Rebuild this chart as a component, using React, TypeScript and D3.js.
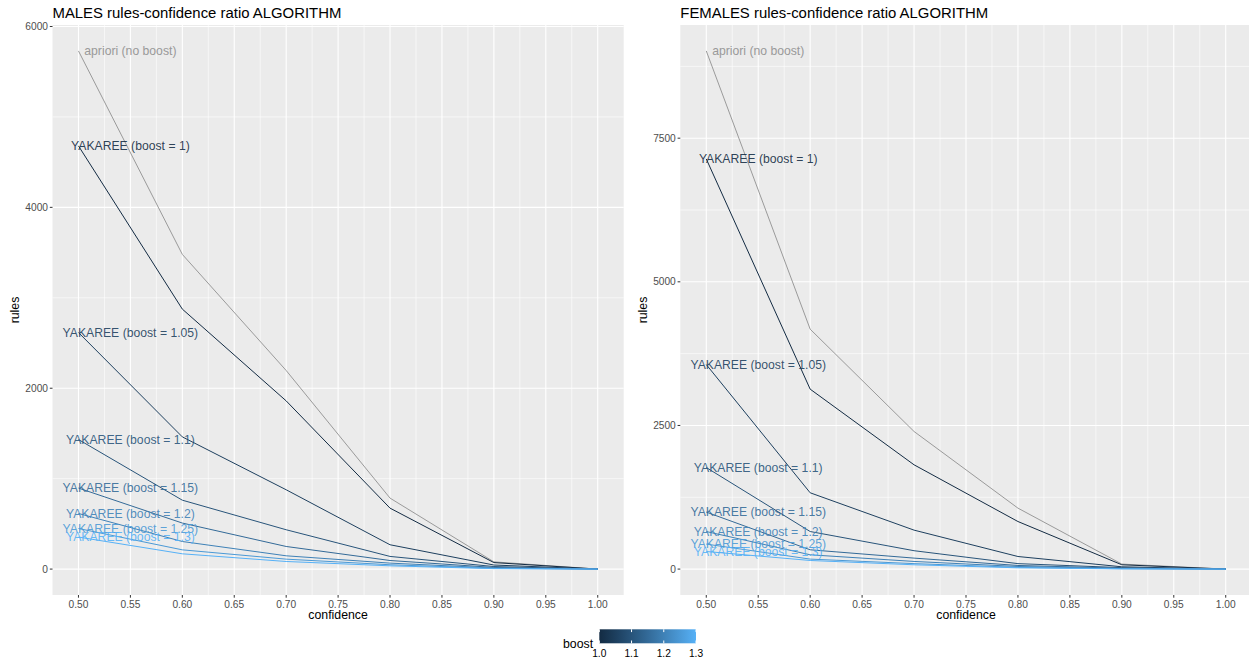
import React from "react";
import * as d3 from "d3";

const confidence = [0.5, 0.6, 0.7, 0.8, 0.9, 1.0];
const boosts = [1, 1.05, 1.1, 1.15, 1.2, 1.25, 1.3];

const maleApriori = [5730, 3480, 2196, 785, 80, 0];
const maleYakaree = [
  [4680, 2875, 1860, 674, 72, 0],
  [2616, 1462, 877, 269, 45, 0],
  [1433, 762, 435, 140, 28, 0],
  [896, 509, 250, 95, 18, 0],
  [615, 305, 147, 66, 12, 0],
  [449, 213, 110, 48, 8, 0],
  [354, 169, 84, 36, 5, 0],
];

const femaleApriori = [9019, 4176, 2395, 1061, 87, 0];
const femaleYakaree = [
  [7139, 3132, 1815, 828, 75, 0],
  [3560, 1328, 678, 219, 40, 0],
  [1768, 654, 320, 95, 25, 0],
  [992, 336, 191, 63, 15, 0],
  [654, 249, 133, 45, 10, 0],
  [435, 174, 95, 30, 6, 0],
  [306, 150, 75, 22, 4, 0],
];

const xTicks = [0.5, 0.55, 0.6, 0.65, 0.7, 0.75, 0.8, 0.85, 0.9, 0.95, 1.0];
const maleYTicks = [0, 2000, 4000, 6000];
const maleYMinor = [1000, 3000, 5000];
const femaleYTicks = [0, 2500, 5000, 7500];
const femaleYMinor = [1250, 3750, 6250, 8750];
const legendTicks = [1.0, 1.1, 1.2, 1.3];

const FONT = "'Liberation Sans', Arial, Helvetica, sans-serif";
const colorScale = d3
  .scaleLinear<string>()
  .domain([1, 1.3])
  .range(["#132B43", "#56B1F7"])
  .interpolate(d3.interpolateLab);

type PanelProps = {
  title: string;
  left: number;
  right: number;
  apriori: number[];
  yakaree: number[][];
  yTicks: number[];
  yMinor: number[];
  yTitleX: number;
};

function Panel({ title, left, right, apriori, yakaree, yTicks, yMinor, yTitleX }: PanelProps) {
  const top = 25;
  const bottom = 595;
  const all = [...apriori, ...yakaree.flat()];
  const ymax = d3.max(all) as number;
  const ymin = 0;
  const pad = (ymax - ymin) * 0.05;
  const x = d3.scaleLinear().domain([0.475, 1.025]).range([left, right]);
  const y = d3.scaleLinear().domain([ymin - pad, ymax + pad]).range([bottom, top]);
  const line = d3
    .line<number>()
    .x((_, i) => x(confidence[i]))
    .y((d) => y(d));
  const xMinor = xTicks.slice(0, -1).map((t) => t + 0.025);
  const yLo = y.domain()[0];
  const yHi = y.domain()[1];
  const labelX = x(0.55);
  return (
    <g>
      <text x={left} y={18} fontFamily={FONT} fontSize={14.9} fill="#000">
        {title}
      </text>
      <rect x={left} y={top} width={right - left} height={bottom - top} fill="#EBEBEB" />
      {yMinor
        .filter((t) => t > yLo && t < yHi)
        .map((t) => (
          <line key={"ym" + t} x1={left} x2={right} y1={y(t)} y2={y(t)} stroke="#fff" strokeWidth={0.6} />
        ))}
      {xMinor.map((t) => (
        <line key={"xm" + t} x1={x(t)} x2={x(t)} y1={top} y2={bottom} stroke="#fff" strokeWidth={0.6} />
      ))}
      {yTicks.map((t) => (
        <line key={"yM" + t} x1={left} x2={right} y1={y(t)} y2={y(t)} stroke="#fff" strokeWidth={1.1} />
      ))}
      {xTicks.map((t) => (
        <line key={"xM" + t} x1={x(t)} x2={x(t)} y1={top} y2={bottom} stroke="#fff" strokeWidth={1.1} />
      ))}
      <path d={line(apriori) || ""} fill="none" stroke="#9a9a9a" strokeWidth={1} />
      {yakaree.map((vals, i) => (
        <path key={"l" + i} d={line(vals) || ""} fill="none" stroke={colorScale(boosts[i])} strokeWidth={1} />
      ))}
      <text
        x={labelX}
        y={y(apriori[0])}
        dy="0.35em"
        textAnchor="middle"
        fontFamily={FONT}
        fontSize={12.2}
        fill="#999999"
      >
        apriori (no boost)
      </text>
      {yakaree.map((vals, i) => (
        <text
          key={"t" + i}
          x={labelX}
          y={y(vals[0])}
          dy="0.35em"
          textAnchor="middle"
          fontFamily={FONT}
          fontSize={12.2}
          fill={colorScale(boosts[i])}
          fillOpacity={0.9}
        >
          {`YAKAREE (boost = ${boosts[i]})`}
        </text>
      ))}
      {yTicks.map((t) => (
        <g key={"yt" + t}>
          <line x1={left - 2.7} x2={left} y1={y(t)} y2={y(t)} stroke="#333" strokeWidth={1} />
          <text
            x={left - 4.5}
            y={y(t)}
            dy="0.35em"
            textAnchor="end"
            fontFamily={FONT}
            fontSize={10.2}
            fill="#4D4D4D"
          >
            {String(t)}
          </text>
        </g>
      ))}
      {xTicks.map((t) => (
        <g key={"xt" + t}>
          <line x1={x(t)} x2={x(t)} y1={bottom} y2={bottom + 2.7} stroke="#333" strokeWidth={1} />
          <text x={x(t)} y={608} textAnchor="middle" fontFamily={FONT} fontSize={10.2} fill="#4D4D4D">
            {t.toFixed(2)}
          </text>
        </g>
      ))}
      <text
        x={(left + right) / 2}
        y={619}
        textAnchor="middle"
        fontFamily={FONT}
        fontSize={12.3}
        fill="#000"
      >
        confidence
      </text>
      <text
        transform={`translate(${yTitleX},${(top + bottom) / 2}) rotate(-90)`}
        textAnchor="middle"
        fontFamily={FONT}
        fontSize={12.3}
        fill="#000"
      >
        rules
      </text>
    </g>
  );
}

function Legend() {
  const bx0 = 599.3;
  const bx1 = 696;
  const by0 = 629.3;
  const by1 = 643.3;
  const lx = d3.scaleLinear().domain([1.0, 1.3]).range([bx0, bx1]);
  const stops = d3.range(0, 1.0001, 0.1);
  const h = by1 - by0;
  return (
    <g>
      <defs>
        <linearGradient id="boostGrad" x1="0" x2="1" y1="0" y2="0">
          {stops.map((s) => (
            <stop key={s} offset={s} stopColor={colorScale(1 + 0.3 * s)} />
          ))}
        </linearGradient>
      </defs>
      <text x={563} y={647.5} fontFamily={FONT} fontSize={12.3} fill="#000">
        boost
      </text>
      <rect x={bx0} y={by0} width={bx1 - bx0} height={h} fill="url(#boostGrad)" />
      {legendTicks.map((t) => (
        <g key={"lg" + t}>
          <line x1={lx(t)} x2={lx(t)} y1={by0} y2={by0 + h / 5} stroke="#fff" strokeWidth={1} />
          <line x1={lx(t)} x2={lx(t)} y1={by1 - h / 5} y2={by1} stroke="#fff" strokeWidth={1} />
          <text x={lx(t)} y={657} textAnchor="middle" fontFamily={FONT} fontSize={10.2} fill="#000">
            {t.toFixed(1)}
          </text>
        </g>
      ))}
    </g>
  );
}

export default function App() {
  return (
    <svg
      width={1249}
      height={660}
      style={{ position: "absolute", left: 0, top: 0, background: "#fff" }}
    >
      <rect x={0} y={0} width={1249} height={660} fill="#fff" />
      <Panel
        title="MALES rules-confidence ratio ALGORITHM"
        left={52.5}
        right={623.7}
        apriori={maleApriori}
        yakaree={maleYakaree}
        yTicks={maleYTicks}
        yMinor={maleYMinor}
        yTitleX={19}
      />
      <Panel
        title="FEMALES rules-confidence ratio ALGORITHM"
        left={680.3}
        right={1251.7}
        apriori={femaleApriori}
        yakaree={femaleYakaree}
        yTicks={femaleYTicks}
        yMinor={femaleYMinor}
        yTitleX={647}
      />
      <Legend />
    </svg>
  );
}
